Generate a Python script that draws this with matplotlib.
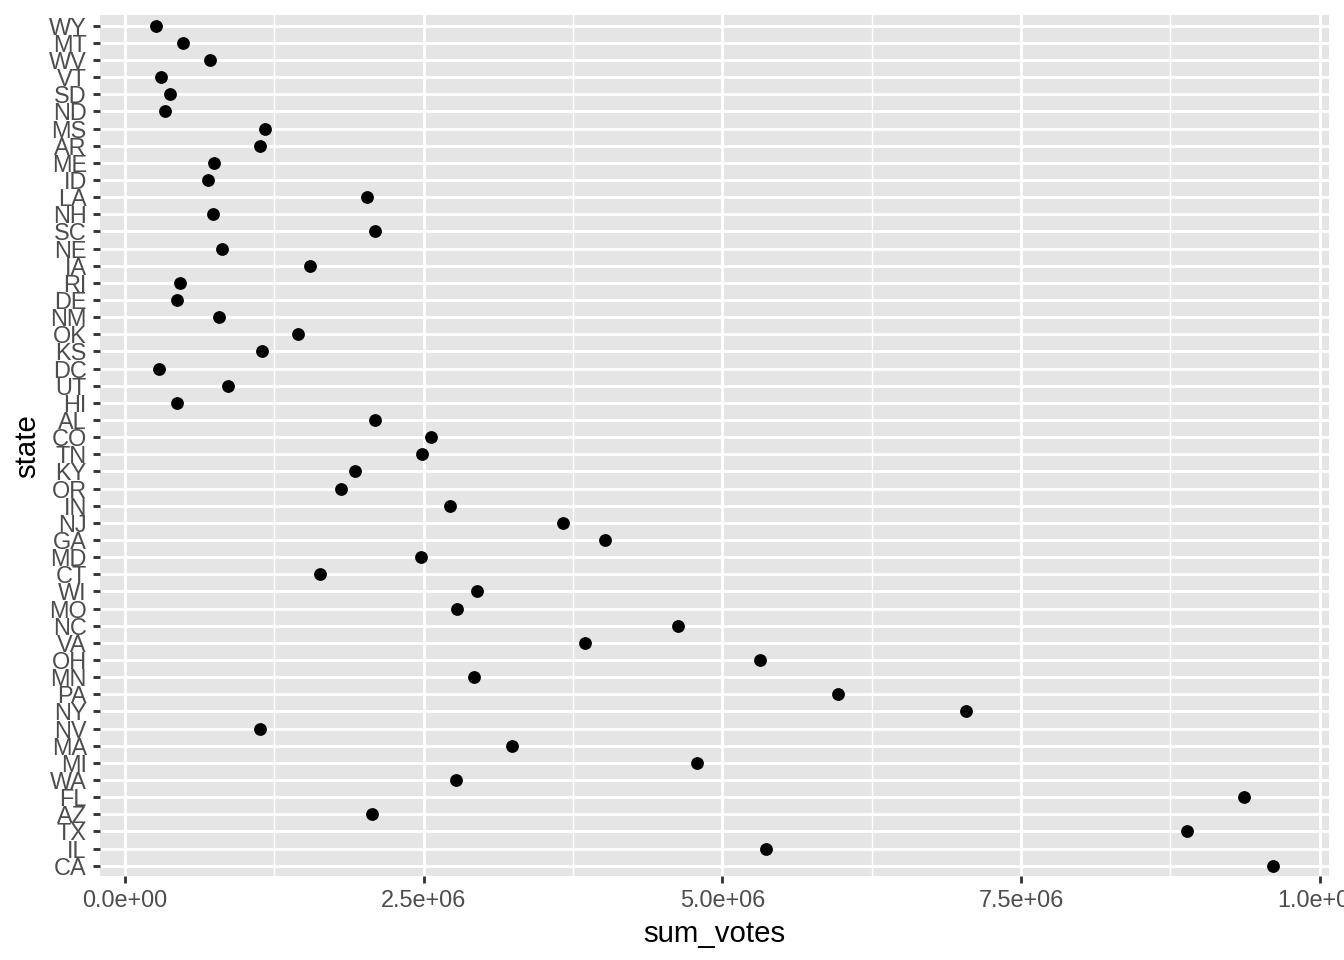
import matplotlib.pyplot as plt
from matplotlib.ticker import FixedLocator

plt.rcParams['font.family'] = ['Liberation Sans', 'DejaVu Sans']

# states from bottom to top, as in the chart
states = ["CA", "IL", "TX", "AZ", "FL", "WA", "MI", "MA", "NV", "NY",
          "PA", "MN", "OH", "VA", "NC", "MO", "WI", "CT", "MD", "GA",
          "NJ", "IN", "OR", "KY", "TN", "CO", "AL", "HI", "UT", "DC",
          "KS", "OK", "NM", "DE", "RI", "IA", "NE", "SC", "NH", "LA",
          "ID", "ME", "AR", "MS", "ND", "SD", "VT", "WV", "MT", "WY"]
sum_votes = [9.61e6, 5.37e6, 8.89e6, 2.07e6, 9.37e6, 2.77e6, 4.79e6, 3.24e6, 1.13e6, 7.04e6,
             5.97e6, 2.92e6, 5.32e6, 3.85e6, 4.63e6, 2.78e6, 2.95e6, 1.63e6, 2.48e6, 4.02e6,
             3.67e6, 2.72e6, 1.81e6, 1.93e6, 2.49e6, 2.56e6, 2.09e6, 0.44e6, 0.86e6, 0.29e6,
             1.15e6, 1.45e6, 0.79e6, 0.44e6, 0.46e6, 1.55e6, 0.81e6, 2.09e6, 0.74e6, 2.03e6,
             0.70e6, 0.75e6, 1.13e6, 1.17e6, 0.34e6, 0.38e6, 0.30e6, 0.71e6, 0.49e6, 0.26e6]
x_ticks = [0, 2.5e6, 5e6, 7.5e6, 1e7]
x_labels = ["0.0e+00", "2.5e+06", "5.0e+06", "7.5e+06", "1.0e+07"]

fig = plt.figure(figsize=(7, 5), dpi=192)
ax = fig.add_axes([0.0744, 0.0875, 0.9144, 0.8965])
ax.set_facecolor('#E5E5E5')
for s in ax.spines.values():
    s.set_visible(False)

ypos = list(range(len(states)))
ax.scatter(sum_votes, ypos, s=4.8 ** 2, color='black', zorder=3, linewidths=0)

# ggplot-style 5% padding on the x range
lo, hi = min(sum_votes), max(sum_votes)
pad = (hi - lo) * 0.05
ax.set_xlim(lo - pad, hi + pad)
ax.set_ylim(-0.6, len(states) - 0.4)

ax.set_xticks(x_ticks)
ax.set_xticklabels(x_labels)
ax.xaxis.set_minor_locator(FixedLocator([1.25e6, 3.75e6, 6.25e6, 8.75e6]))
ax.set_yticks(ypos)
ax.set_yticklabels(states)

ax.grid(which='major', color='white', linewidth=1.07)
ax.grid(which='minor', axis='x', color='white', linewidth=0.53)
ax.set_axisbelow(True)
ax.tick_params(which='major', length=2.75, width=1.07, color='#333333',
               labelsize=8.8, labelcolor='#4D4D4D', pad=2.2)
ax.tick_params(which='minor', length=0)

ax.set_xlabel('sum_votes', fontsize=11, labelpad=3)
ax.set_ylabel('state', fontsize=11, labelpad=3)

fig.savefig('out.png', dpi=192)
